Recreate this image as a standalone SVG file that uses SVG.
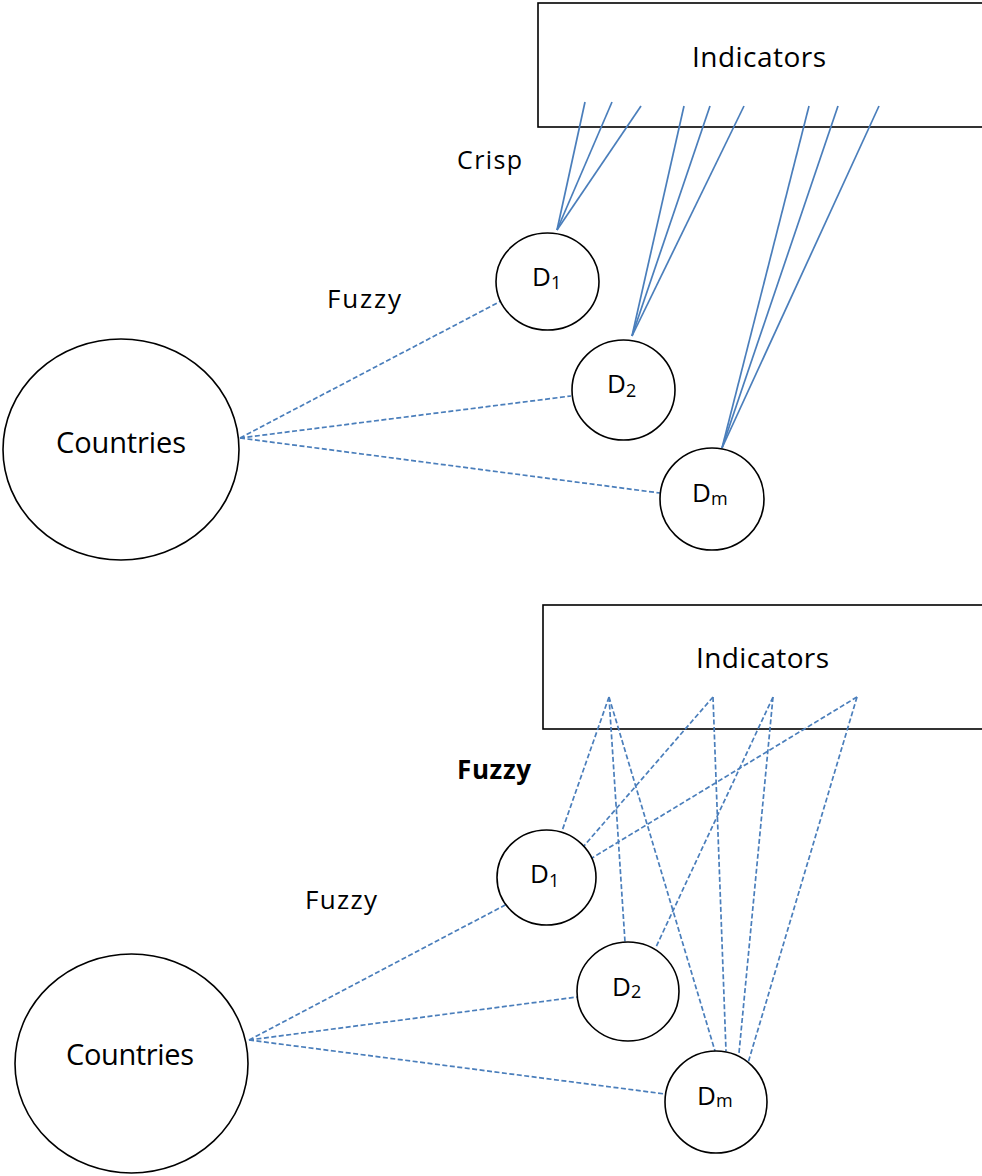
<svg xmlns="http://www.w3.org/2000/svg" width="982" height="1176" viewBox="0 0 982 1176">
<style>
.box{fill:#fff;stroke:#000;stroke-width:1.6}
.nd{fill:#fff;stroke:#000;stroke-width:1.6}
.t{font-family:"Open Sans","Liberation Sans",Arial,sans-serif;fill:#000}
.solid{stroke:#4a7ebb;stroke-width:1.7;fill:none}
.dash{stroke:#4a7ebb;stroke-width:1.7;fill:none;stroke-dasharray:5 2.5}
</style>
<rect width="982" height="1176" fill="#fff"/>
<g id="indicators-top">
<rect class="box" x="538" y="3" width="448" height="124"/>
<text class="t" x="692" y="67" font-size="28" textLength="134">Indicators</text>
</g>
<g id="indicators-bottom">
<rect class="box" x="543" y="605" width="443" height="124"/>
<text class="t" x="696" y="668" font-size="28" textLength="133">Indicators</text>
</g>
<g id="connectors">
<line class="solid" x1="585" y1="102" x2="557" y2="230"/>
<line class="solid" x1="612" y1="102" x2="557" y2="230"/>
<line class="solid" x1="641" y1="106" x2="557" y2="230"/>
<line class="solid" x1="684" y1="106" x2="632" y2="336"/>
<line class="solid" x1="710" y1="106" x2="632" y2="336"/>
<line class="solid" x1="744" y1="106" x2="632" y2="336"/>
<line class="solid" x1="809" y1="106" x2="722" y2="448"/>
<line class="solid" x1="838" y1="106" x2="722" y2="448"/>
<line class="solid" x1="879" y1="106" x2="722" y2="448"/>
<line class="dash" x1="240" y1="438" x2="503" y2="300"/>
<line class="dash" x1="240" y1="438" x2="571" y2="396"/>
<line class="dash" x1="240" y1="438" x2="660" y2="493"/>
<line class="dash" x1="609" y1="697" x2="562" y2="831"/>
<line class="dash" x1="609" y1="697" x2="625" y2="942"/>
<line class="dash" x1="609" y1="697" x2="715" y2="1051"/>
<line class="dash" x1="713" y1="697" x2="583" y2="847"/>
<line class="dash" x1="713" y1="697" x2="726" y2="1051"/>
<line class="dash" x1="773" y1="697" x2="656" y2="947"/>
<line class="dash" x1="773" y1="697" x2="739" y2="1053"/>
<line class="dash" x1="857" y1="697" x2="592" y2="858"/>
<line class="dash" x1="857" y1="697" x2="748" y2="1063"/>
<line class="dash" x1="249" y1="1040" x2="509" y2="903"/>
<line class="dash" x1="249" y1="1040" x2="577" y2="997"/>
<line class="dash" x1="249" y1="1040" x2="665" y2="1094"/>
</g>
<g id="countries-top">
<ellipse class="nd" cx="121" cy="449.5" rx="118" ry="110.5"/>
<text class="t" x="56" y="453" font-size="29" textLength="130">Countries</text>
</g>
<g id="d1-top">
<ellipse class="nd" cx="547.5" cy="281.5" rx="51.5" ry="48.5"/>
<text class="t" x="532" y="286" font-size="26">D<tspan font-size="18" dy="3">1</tspan></text>
</g>
<g id="d2-top">
<ellipse class="nd" cx="623.5" cy="390" rx="51.5" ry="50"/>
<text class="t" x="607" y="393" font-size="26">D<tspan font-size="18" dy="4">2</tspan></text>
</g>
<g id="dm-top">
<ellipse class="nd" cx="712" cy="499" rx="52" ry="51"/>
<text class="t" x="692" y="502" font-size="26">D<tspan font-size="18" dy="3">m</tspan></text>
</g>
<g id="countries-bottom">
<ellipse class="nd" cx="131.5" cy="1063.5" rx="116.5" ry="109.5"/>
<text class="t" x="66" y="1065" font-size="29" textLength="128">Countries</text>
</g>
<g id="d1-bottom">
<ellipse class="nd" cx="546.5" cy="877.5" rx="49.5" ry="47.5"/>
<text class="t" x="530" y="883" font-size="26">D<tspan font-size="18" dy="4">1</tspan></text>
</g>
<g id="d2-bottom">
<ellipse class="nd" cx="628" cy="991.5" rx="51" ry="49.5"/>
<text class="t" x="612" y="996" font-size="26">D<tspan font-size="18" dy="2">2</tspan></text>
</g>
<g id="dm-bottom">
<ellipse class="nd" cx="716" cy="1102" rx="51" ry="51"/>
<text class="t" x="697" y="1105" font-size="26">D<tspan font-size="18" dy="2">m</tspan></text>
</g>
<g id="labels">
<text class="t" x="457" y="169" font-size="25" textLength="65">Crisp</text>
<text class="t" x="327" y="308" font-size="26" textLength="74">Fuzzy</text>
<text class="t" x="457" y="779" font-size="26" font-weight="bold" textLength="74">Fuzzy</text>
<text class="t" x="305" y="909" font-size="26" textLength="72">Fuzzy</text>
</g>
</svg>
